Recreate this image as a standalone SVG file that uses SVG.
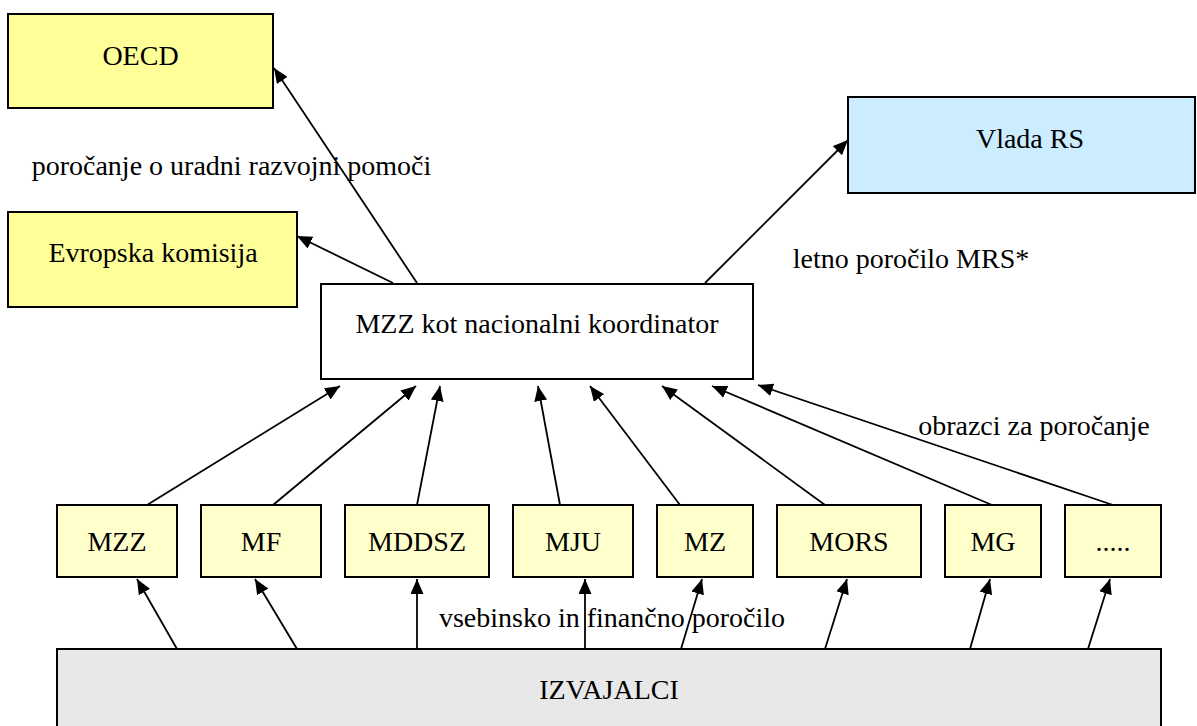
<svg xmlns="http://www.w3.org/2000/svg" width="1197" height="726" viewBox="0 0 1197 726">
<style>
  .box{stroke:#000;stroke-width:2}
  .yel{fill:#FFFF99}
  .lyel{fill:#FFFFCC}
  .blue{fill:#CCECFF}
  .white{fill:#FFFFFF}
  .grey{fill:#E8E8E8}
  text{font-family:'Liberation Serif','DejaVu Serif',serif;font-size:28px;fill:#000;text-anchor:middle}
  .conn line{stroke:#000;stroke-width:1.8;marker-end:url(#ah)}
</style>
<defs>
  <marker id="ah" markerUnits="userSpaceOnUse" markerWidth="16" markerHeight="13" refX="15" refY="6.5" orient="auto">
    <path d="M0,0 L15,6.5 L0,13 z" fill="#000"/>
  </marker>
</defs>
<rect width="1197" height="726" fill="#fff"/>

<g id="oecd"><rect class="box yel" x="8" y="14" width="265" height="94"/><text x="140.5" y="65">OECD</text></g>
<g id="ek"><rect class="box yel" x="8" y="212" width="289" height="95"/><text x="153" y="262">Evropska komisija</text></g>
<g id="vlada"><rect class="box blue" x="848" y="97" width="347" height="96"/><text x="1030" y="148">Vlada RS</text></g>
<g id="koord"><rect class="box white" x="321" y="284" width="432" height="95"/><text x="537" y="333">MZZ kot nacionalni koordinator</text></g>

<g id="n-mzz"><rect class="box lyel" x="57" y="505" width="120" height="72"/><text x="117" y="551">MZZ</text></g>
<g id="n-mf"><rect class="box lyel" x="201" y="505" width="120" height="72"/><text x="261" y="551">MF</text></g>
<g id="n-mddsz"><rect class="box lyel" x="345" y="505" width="144" height="72"/><text x="417" y="551">MDDSZ</text></g>
<g id="n-mju"><rect class="box lyel" x="513" y="505" width="120" height="72"/><text x="573" y="551">MJU</text></g>
<g id="n-mz"><rect class="box lyel" x="657" y="505" width="96" height="72"/><text x="705" y="551">MZ</text></g>
<g id="n-mors"><rect class="box lyel" x="777" y="505" width="144" height="72"/><text x="849" y="551">MORS</text></g>
<g id="n-mg"><rect class="box lyel" x="945" y="505" width="96" height="72"/><text x="993" y="551">MG</text></g>
<g id="n-etc"><rect class="box lyel" x="1065" y="505" width="96" height="72"/><text x="1113" y="551">.....</text></g>

<g id="izvajalci"><rect class="box grey" x="57" y="649" width="1104" height="100"/><text x="609" y="699">IZVAJALCI</text></g>

<g id="connectors" class="conn">
  <line x1="417" y1="283" x2="274" y2="68"/>
  <line x1="393" y1="283" x2="297" y2="236"/>
  <line x1="705" y1="283" x2="848" y2="140"/>

  <line x1="147" y1="505" x2="340" y2="386"/>
  <line x1="273" y1="505" x2="416" y2="386"/>
  <line x1="417" y1="505" x2="440" y2="386"/>
  <line x1="560" y1="505" x2="538" y2="386"/>
  <line x1="680" y1="505" x2="590" y2="386"/>
  <line x1="825" y1="505" x2="662" y2="386"/>
  <line x1="992" y1="505" x2="712" y2="386"/>
  <line x1="1113" y1="505" x2="758" y2="385"/>

  <line x1="177" y1="649" x2="137" y2="579"/>
  <line x1="297" y1="649" x2="255" y2="579"/>
  <line x1="417" y1="649" x2="417" y2="579"/>
  <line x1="585" y1="649" x2="585" y2="579"/>
  <line x1="681" y1="649" x2="702" y2="579"/>
  <line x1="825" y1="649" x2="847" y2="579"/>
  <line x1="970" y1="649" x2="990" y2="579"/>
  <line x1="1088" y1="649" x2="1110" y2="579"/>
</g>

<g id="labels">
  <text x="231.5" y="175">poročanje o uradni razvojni pomoči</text>
  <text x="911" y="268">letno poročilo MRS*</text>
  <text x="1034" y="435">obrazci za poročanje</text>
  <text x="612" y="627">vsebinsko in finančno poročilo</text>
</g>
</svg>
